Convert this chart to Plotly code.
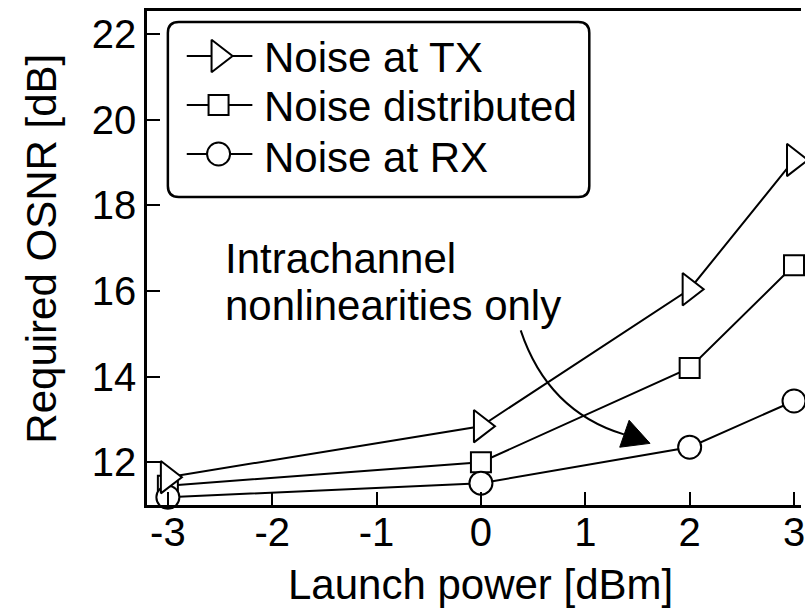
import plotly.graph_objects as go

# ---------------- data ----------------
x_power = [-3, 0, 2, 3]
osnr_tx = [11.65, 12.84, 16.04, 19.06]
osnr_dist = [11.45, 12.0, 14.2, 16.6]
osnr_rx = [11.18, 11.51, 12.35, 13.43]
series_names = ["Noise at TX", "Noise distributed", "Noise at RX"]
x_ticks = [-3, -2, -1, 0, 1, 2, 3]
x_ticktext = ["-3", "-2", "-1", "0", "1", "2", "3"]
y_ticks = [12, 14, 16, 18, 20, 22]
note_lines = ["Intrachannel", "nonlinearities only"]

# ---------------- layout geometry ----------------
W, H = 805, 610
ML, MR, MT, MB = 147, 0, 11, 105
PW, PH = W - ML - MR, H - MT - MB
FONT = "Liberation Sans, Arial, Helvetica, sans-serif"
FS = 42      # text size (legend, note, titles)
FS_TICK = 40


def px(xp):
    return (xp - ML) / PW


def py(yp):
    return (H - MB - yp) / PH


styles = {
    "Noise at TX": dict(symbol="triangle-right", size=28),
    "Noise distributed": dict(symbol="square", size=20),
    "Noise at RX": dict(symbol="circle", size=23),
}
values = {"Noise at TX": osnr_tx, "Noise distributed": osnr_dist, "Noise at RX": osnr_rx}

fig = go.Figure()
for name in ["Noise distributed", "Noise at RX", "Noise at TX"]:
    st = styles[name]
    fig.add_trace(go.Scatter(
        x=x_power, y=values[name], mode="lines+markers", name=name,
        line=dict(color="black", width=2),
        marker=dict(symbol=st["symbol"], size=st["size"], color="white",
                    line=dict(color="black", width=2)),
        cliponaxis=False, showlegend=False,
    ))

# ---------------- hand-drawn legend (rounded box) ----------------
row_y = [56, 105, 154]
for name, ry in zip(series_names, row_y):
    st = styles[name]
    fig.add_trace(go.Scatter(
        x=[px(187), px(253)], y=[py(ry), py(ry)], mode="lines",
        line=dict(color="black", width=2), xaxis="x2", yaxis="y2",
        showlegend=False, hoverinfo="skip"))
    fig.add_trace(go.Scatter(
        x=[px(219)], y=[py(ry)], mode="markers",
        marker=dict(symbol=st["symbol"], size=st["size"], color="white",
                    line=dict(color="black", width=2)),
        xaxis="x2", yaxis="y2", showlegend=False, hoverinfo="skip"))

annotations = []
for name, ry in zip(series_names, [58, 107, 157]):
    annotations.append(dict(
        x=px(263), y=py(ry), xref="paper", yref="paper", text=name,
        showarrow=False, xanchor="left", yanchor="middle",
        font=dict(size=FS, color="black", family=FONT)))

# legend box with rounded corners
x0, x1 = px(168), px(592)
y0, y1 = py(197), py(22)
rx, ry_ = 11 / PW, 11 / PH
box = (f"M{x0+rx},{y1} L{x1-rx},{y1} Q{x1},{y1} {x1},{y1-ry_} "
       f"L{x1},{y0+ry_} Q{x1},{y0} {x1-rx},{y0} L{x0+rx},{y0} "
       f"Q{x0},{y0} {x0},{y0+ry_} L{x0},{y1-ry_} Q{x0},{y1} {x0+rx},{y1} Z")

shapes = [dict(type="path", xref="paper", yref="paper", path=box,
               line=dict(color="black", width=2.5), fillcolor="rgba(0,0,0,0)")]

# curved arrow (in data coordinates)
shapes.append(dict(type="path", xref="x", yref="y",
                   path="M0.381,15.08 Q0.64,13.19 1.37,12.65",
                   line=dict(color="black", width=2)))
shapes.append(dict(type="path", xref="x", yref="y",
                   path="M1.62,12.44 L1.42,12.98 L1.33,12.35 Z",
                   line=dict(color="black", width=1), fillcolor="black"))

# annotation text
for txt, ry in zip(note_lines, [258, 305]):
    annotations.append(dict(
        x=px(223), y=py(ry), xref="paper", yref="paper", text=txt,
        showarrow=False, xanchor="left", yanchor="middle",
        font=dict(size=FS, color="black", family=FONT)))

# axis titles
annotations.append(dict(x=0, y=py(584), xref="x", yref="paper",
                        text="Launch power [dBm]", showarrow=False,
                        xanchor="center", yanchor="middle",
                        font=dict(size=FS, color="black", family=FONT)))
annotations.append(dict(x=px(40), y=py(249), xref="paper", yref="paper",
                        text="Required OSNR [dB]", showarrow=False, textangle=-90,
                        xanchor="center", yanchor="middle",
                        font=dict(size=FS, color="black", family=FONT)))

axis_common = dict(showgrid=False, zeroline=False, showline=True,
                   linecolor="black", linewidth=2.5, ticks="inside",
                   ticklen=13, tickwidth=2, tickcolor="black",
                   ticklabeloverflow="allow",
                   tickfont=dict(size=FS_TICK, color="black", family=FONT))

fig.update_layout(
    width=W, height=H,
    margin=dict(l=ML, r=MR, t=MT, b=MB, pad=0),
    paper_bgcolor="white", plot_bgcolor="white",
    showlegend=False,
    font=dict(family=FONT, color="black"),
    xaxis=dict(range=[-3.2, 3.067], tickvals=x_ticks, ticktext=x_ticktext,
               mirror=True, ticklabelstandoff=-10, **axis_common),
    yaxis=dict(range=[11.0, 22.54], tickvals=y_ticks, **axis_common),
    xaxis2=dict(range=[0, 1], domain=[0, 1], overlaying="x", visible=False, fixedrange=True),
    yaxis2=dict(range=[0, 1], domain=[0, 1], overlaying="y", visible=False, fixedrange=True),
    shapes=shapes,
    annotations=annotations,
)

fig.write_html("out.html", config={"displayModeBar": False},
               post_script="document.body.style.margin='0';document.body.style.overflow='hidden';")
